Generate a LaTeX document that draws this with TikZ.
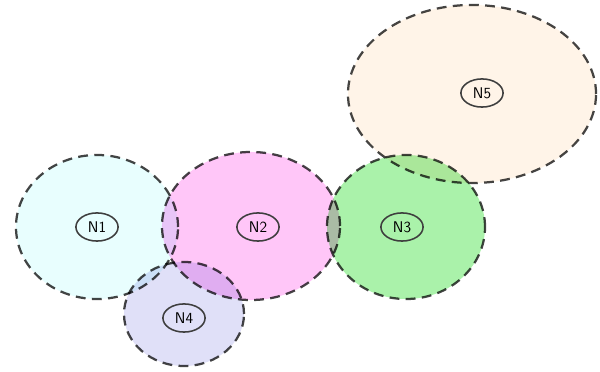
\documentclass[tikz,border=0pt]{standalone}
\usepackage{tikz}
\usetikzlibrary{shapes.geometric}
\definecolor{cyanN}{HTML}{E8FEFE}
\definecolor{pinkN}{HTML}{FFC6F8}
\definecolor{greenN}{HTML}{AAF2AA}
\definecolor{lilacN}{HTML}{E0E0F8}
\definecolor{peachN}{HTML}{FFF4E8}
\definecolor{rimN}{HTML}{454545}

\begin{document}
\begin{tikzpicture}[x=0.025cm,y=-0.025cm,
  zone/.style={ellipse,draw=rimN,dash pattern=on 7pt off 4.5pt,line width=1.6pt,inner sep=0pt,blend mode=multiply},
  tag/.style={ellipse,draw=rimN!90!black,line width=1.1pt,font=\sffamily\fontsize{11}{13}\selectfont,inner sep=1.5pt,minimum width=30pt,minimum height=20pt}]
\useasboundingbox (0,0) rectangle (600,372);
\node[zone,fill=cyanN,minimum width=4.05cm,minimum height=3.6cm] (z1) at (97,227){};
\node[zone,fill=pinkN,minimum width=4.45cm,minimum height=3.7cm] (z2) at (251,226){};
\node[zone,fill=greenN,minimum width=3.95cm,minimum height=3.6cm] (z3) at (406,227){};
\node[zone,fill=lilacN,minimum width=3.0cm,minimum height=2.6cm] (z4) at (184,314){};
\node[zone,fill=peachN,minimum width=6.2cm,minimum height=4.45cm] (z5) at (472,94){};
\node[tag] (n1) at (97,227){N1};
\node[tag] (n2) at (258,227){N2};
\node[tag] (n3) at (402,227){N3};
\node[tag] (n4) at (184,318){N4};
\node[tag] (n5) at (482,93){N5};
\end{tikzpicture}
\end{document}
